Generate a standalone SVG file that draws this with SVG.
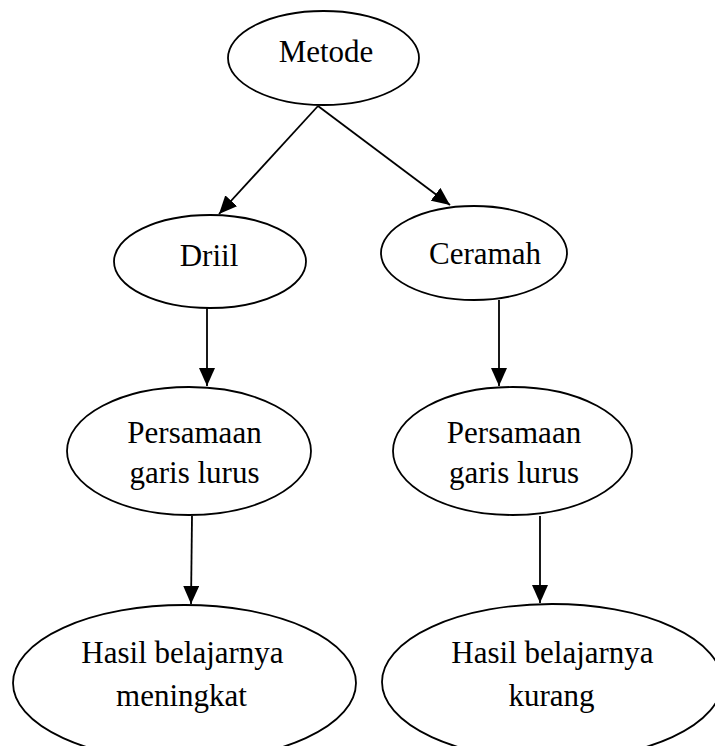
<svg xmlns="http://www.w3.org/2000/svg" width="715" height="746" viewBox="0 0 715 746">
<style>
.n{fill:#fff;stroke:#000;stroke-width:1.8}
.t{font-family:"Liberation Serif","Times New Roman",serif;font-size:31px;fill:#000;text-anchor:middle}
.e{stroke:#000;stroke-width:1.8;fill:none;marker-end:url(#ah)}
</style>
<defs>
<marker id="ah" markerUnits="userSpaceOnUse" markerWidth="20" markerHeight="16" viewBox="0 0 20 16" refX="18" refY="8" orient="auto">
<path d="M0,0 L18,8 L0,16 Z" fill="#000"/>
</marker>
</defs>
<rect width="715" height="746" fill="#fff"/>
<g id="connectors">
<line class="e" x1="318" y1="106" x2="219" y2="214"/>
<line class="e" x1="318" y1="106" x2="450" y2="205"/>
<line class="e" x1="207" y1="308" x2="207" y2="386"/>
<line class="e" x1="499" y1="300" x2="499" y2="386"/>
<line class="e" x1="192" y1="516" x2="191" y2="604"/>
<line class="e" x1="540" y1="516" x2="540" y2="603"/>
</g>
<g id="metode">
<ellipse class="n" cx="323.5" cy="58" rx="95.5" ry="47"/>
<text class="t" x="326" y="62">Metode</text>
</g>
<g id="driil">
<ellipse class="n" cx="210" cy="261.5" rx="96" ry="46.5"/>
<text class="t" x="209" y="266">Driil</text>
</g>
<g id="ceramah">
<ellipse class="n" cx="474" cy="253" rx="93" ry="47"/>
<text class="t" x="485" y="264">Ceramah</text>
</g>
<g id="persamaan-kiri">
<ellipse class="n" cx="189" cy="451" rx="122" ry="64"/>
<text class="t" x="194.5" y="443">Persamaan</text>
<text class="t" x="194.5" y="483">garis lurus</text>
</g>
<g id="persamaan-kanan">
<ellipse class="n" cx="512.5" cy="451" rx="119.5" ry="64"/>
<text class="t" x="514" y="443">Persamaan</text>
<text class="t" x="514" y="483">garis lurus</text>
</g>
<g id="hasil-meningkat">
<ellipse class="n" cx="184.5" cy="683" rx="171.5" ry="78"/>
<text class="t" x="182.5" y="663">Hasil belajarnya</text>
<text class="t" x="181.5" y="706">meningkat</text>
</g>
<g id="hasil-kurang">
<ellipse class="n" cx="552" cy="682" rx="170" ry="78"/>
<text class="t" x="552.5" y="663">Hasil belajarnya</text>
<text class="t" x="551.5" y="706">kurang</text>
</g>
</svg>
